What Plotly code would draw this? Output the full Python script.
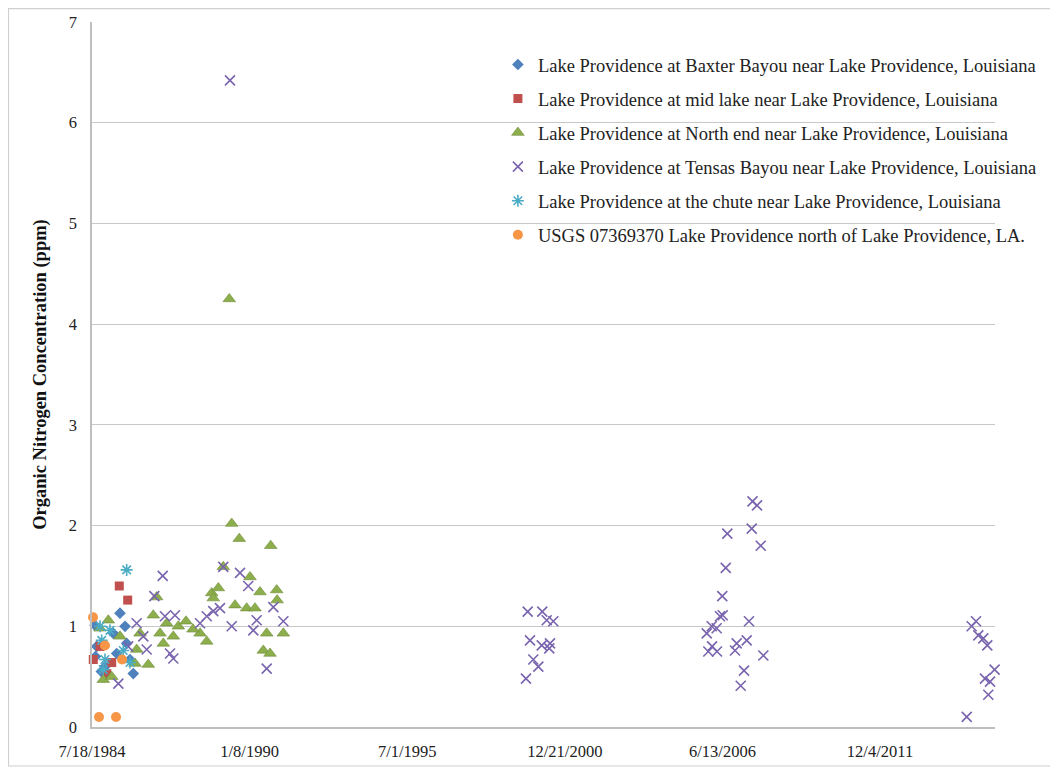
import pandas as pd
import plotly.graph_objects as go

# ---- Data (dates as Excel serial day numbers, values in ppm) ----
baxter_dates = [31236, 30919, 30941, 30925, 31321, 31194, 31363, 31151, 31300, 31405, 31046, 31000]
baxter_vals = [1.13, 1.01, 0.80, 0.70, 0.83, 0.73, 0.67, 0.93, 1.00, 0.53, 0.60, 0.55]

midlake_dates = [31227, 31334, 30897, 30983, 31131, 31068]
midlake_vals = [1.40, 1.26, 0.67, 0.80, 0.64, 0.53]

north_dates = [32654, 32750, 33149, 32623, 32547, 32886, 33013, 33225, 32400, 32484,
               32420, 32696, 32844, 32949, 33230, 32252, 32337, 33098, 33309, 33055,
               33140, 31702, 31659, 31829, 31976, 31744, 31913, 31490, 31595, 31448,
               31786, 31088, 30983, 31024, 31131, 31427, 31236, 32074, 32163]
north_vals = [2.02, 1.87, 1.80, 4.25, 1.59, 1.49, 1.34, 1.36, 1.33, 1.38,
              1.28, 1.21, 1.18, 1.18, 1.26, 0.93, 0.85, 0.93, 0.93, 0.76,
              0.73, 1.29, 1.11, 1.03, 1.00, 0.93, 0.90, 0.93, 0.62, 0.77,
              0.83, 1.06, 0.98, 0.47, 0.50, 0.63, 0.90, 1.05, 0.97]

tensas_dates = [31215, 31448, 31532, 31575, 31672, 31778, 31807, 31871, 31913, 31934,
                31338, 32252, 32337, 32420, 32505, 32547, 32632, 32654, 32759, 32864,
                32928, 32971, 33098, 33182, 33309,
                36410, 36595, 36651, 36735, 36439, 36588, 36693, 36684, 36481, 36545, 36388,
                39263, 39320, 39253, 39367, 38943, 38923, 38879, 38885, 38850, 39218,
                38682, 38745, 38808, 38750, 38702, 38812, 39062, 39189, 39041, 39400,
                39155, 39113,
                42099, 42044, 42128, 42192, 42242, 42335, 42213, 42277, 42255, 41981]
tensas_vals = [0.43, 1.03, 0.90, 0.77, 1.30, 1.50, 1.10, 0.73, 0.68, 1.11,
               0.80, 1.03, 1.10, 1.15, 1.18, 1.59, 6.42, 1.00, 1.53, 1.40,
               0.96, 1.06, 0.58, 1.19, 1.05,
               1.145, 1.145, 1.06, 1.05, 0.86, 0.81, 0.83, 0.78, 0.67, 0.60, 0.48,
               2.24, 2.20, 1.97, 1.80, 1.92, 1.58, 1.30, 1.11, 1.10, 1.05,
               0.93, 1.00, 0.98, 0.80, 0.75, 0.75, 0.83, 0.86, 0.76, 0.71,
               0.56, 0.41,
               1.05, 1.00, 0.91, 0.88, 0.81, 0.57, 0.48, 0.45, 0.32, 0.10]

chute_dates = [31321, 31004, 31046, 31109, 31278, 31024, 31363, 30983]
chute_vals = [1.56, 0.86, 0.67, 0.96, 0.76, 0.57, 0.64, 1.00]

usgs_dates = [30894, 30970, 31186, 31046, 31262]
usgs_vals = [1.09, 0.10, 0.10, 0.81, 0.67]

series_names = [
    "Lake Providence at Baxter Bayou near Lake Providence, Louisiana",
    "Lake Providence at mid lake near Lake Providence, Louisiana",
    "Lake Providence at North end near Lake Providence, Louisiana",
    "Lake Providence at Tensas Bayou near Lake Providence, Louisiana",
    "Lake Providence at the chute near Lake Providence, Louisiana",
    "USGS 07369370 Lake Providence north of Lake Providence, LA.",
]

x_tick_labels = ["7/18/1984", "1/8/1990", "7/1/1995", "12/21/2000", "6/13/2006", "12/4/2011"]
x_range_serial = [30881, 42340]
y_tick_vals = [0, 1, 2, 3, 4, 5, 6, 7]
y_title = "Organic Nitrogen Concentration (ppm)"


def to_date(serials):
    return pd.to_datetime(pd.Series(serials, dtype="float64"), unit="D", origin="1899-12-30")


FONT = "Liberation Serif, Times New Roman, serif"

styles = [
    dict(symbol="diamond", size=9, color="#4F81BD", line=dict(width=0)),
    dict(symbol="square", size=9, color="#C0504D", line=dict(width=0)),
    dict(symbol="triangle-up", size=11, color="#8DAE4C", line=dict(width=0.6, color="#6F8C3A")),
    dict(symbol="x-thin-open", size=10, color="#7964AE", line=dict(width=1.6, color="#7964AE")),
    dict(symbol="asterisk-open", size=10, color="#4BACC6", line=dict(width=1.6, color="#4BACC6")),
    dict(symbol="circle", size=10, color="#F79646", line=dict(width=0)),
]

data = [
    (baxter_dates, baxter_vals),
    (midlake_dates, midlake_vals),
    (north_dates, north_vals),
    (tensas_dates, tensas_vals),
    (chute_dates, chute_vals),
    (usgs_dates, usgs_vals),
]

fig = go.Figure()
for i, ((d, v), name, st) in enumerate(zip(data, series_names, styles)):
    fig.add_trace(go.Scatter(
        x=to_date(d), y=v, mode="markers", name=name,
        marker=st, cliponaxis=False, legendgroup=f"g{i}",
    ))

tick_dates = pd.to_datetime(x_tick_labels, format="%m/%d/%Y")
xr = to_date(x_range_serial)

fig.update_layout(
    width=1058, height=770,
    margin=dict(l=84, r=71, t=14, b=51, autoexpand=False),
    paper_bgcolor="white", plot_bgcolor="white",
    font=dict(family=FONT, size=16, color="#222222"),
    showlegend=True,
    legend=dict(
        x=0.4495, y=0.966, xanchor="left", yanchor="top",
        font=dict(family=FONT, size=18.5, color="#222222"),
        bgcolor="rgba(0,0,0,0)", traceorder="grouped", tracegroupgap=7,
        itemsizing="trace",
    ),
    xaxis=dict(
        type="date", automargin=False,
        range=[xr.iloc[0], xr.iloc[1]],
        tickvals=list(tick_dates), ticktext=x_tick_labels,
        showgrid=False, zeroline=False,
        showline=True, linecolor="#BFBFBF", linewidth=1.5,
        ticks="", ticklabelstandoff=8,
        tickfont=dict(family=FONT, size=16.5, color="#222222"),
    ),
    yaxis=dict(
        range=[0, 7], tickvals=y_tick_vals, automargin=False,
        showgrid=True, gridcolor="#C8C8C8", gridwidth=1.3,
        zeroline=False, showline=True, linecolor="#BFBFBF", linewidth=1.5,
        ticks="", ticklabelstandoff=10,
        tickfont=dict(family=FONT, size=16.5, color="#222222"),
        title=dict(text="<b>" + y_title + "</b>", font=dict(family=FONT, size=18.5, color="#111111"), standoff=17),
    ),
    shapes=[dict(
        type="rect", xref="paper", yref="paper",
        x0=-0.0925, x1=1.0631, y0=-0.0553, y1=1.0191,
        line=dict(color="#D0D0D0", width=1.2), fillcolor="rgba(0,0,0,0)", layer="below",
    )],
)

fig.write_html("out.html")
